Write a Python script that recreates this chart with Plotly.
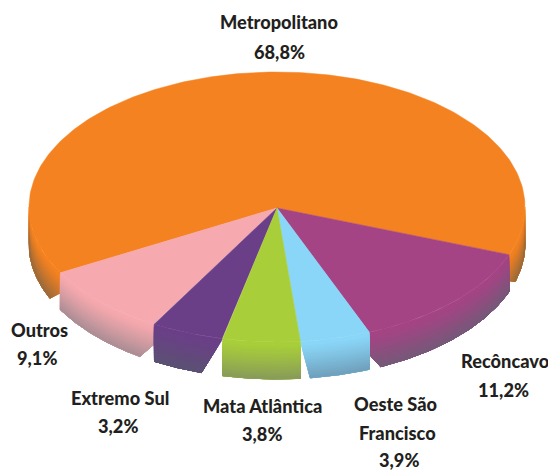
import numpy as np
import plotly.graph_objects as go

# ---- data (clockwise from the right-hand edge of the orange slice) ----
labels = ["Recôncavo", "Oeste São Francisco", "Mata Atlântica", "Extremo Sul", "Outros", "Metropolitano"]
values = [11.2, 3.9, 3.8, 3.2, 9.1, 68.8]

# ---- styles ----
face_colors = ["#A44484", "#8AD6F8", "#A8CE3A", "#6B3F87", "#F6A9AE", "#F58220"]
wall_colors = ["#735A78", "#6E9DB8", "#87995A", "#5A5272", "#A88C94", "#96683C"]
text_color = "#231F20"

# ---- layout geometry (pixel-based axes, projection of the tilted disc) ----
W, H = 548, 470
CX, CY, RX, RY = 277, 207, 248, 135
APEX = (277, 208)
DEPTH = 37
PERSP = 1.25
START_V = -57.9
NUDGE = [0, 0, -1, 0, 2.8, -4.6, 0]

label_lines = {
    "Recôncavo": (["Recôncavo"], [(505, 361)], (503, 390)),
    "Oeste São Francisco": (["Oeste São", "Francisco"], [(395, 404), (397, 433)], (399, 460)),
    "Mata Atlântica": (["Mata Atlântica"], [(262, 406)], (262, 434)),
    "Extremo Sul": (["Extremo Sul"], [(120, 398)], (118, 426)),
    "Outros": (["Outros"], [(39, 330)], (37, 358)),
    "Metropolitano": (["Metropolitano"], [(279, 22)], (279, 52)),
}


def project(v_deg):
    h = np.radians(np.asarray(v_deg, dtype=float)) / 2
    return 90 + 2 * np.degrees(np.arctan2(PERSP * np.sin(h), np.cos(h)))


cum = np.concatenate([[0], np.cumsum(values)])
bounds = project(START_V + 3.6 * cum) + np.array(NUDGE)


def rim(t_deg, shift=0.0):
    t = np.radians(np.asarray(t_deg, dtype=float))
    return CX + RX * np.cos(t), CY + RY * np.sin(t) + shift


def lerp_color(a, b, f):
    ca = [int(a[i:i + 2], 16) for i in (1, 3, 5)]
    cb = [int(b[i:i + 2], 16) for i in (1, 3, 5)]
    return "rgb(%d,%d,%d)" % tuple(round(x + (y - x) * f) for x, y in zip(ca, cb))


def edge(t0, delta, knee, f):
    f = np.asarray(f, dtype=float)
    if knee >= 1:
        return np.full_like(f, t0)
    return t0 + delta * np.clip((f - knee) / (1 - knee), 0, 1)


fig = go.Figure()


def poly(x, y, color):
    fig.add_trace(go.Scatter(x=np.asarray(x), y=np.asarray(y), mode="lines", fill="toself",
                             fillcolor=color, line=dict(color=color, width=0.5),
                             hoverinfo="skip", showlegend=False))


def wall(t0, t1, d0, k0, d1, k1, base, dark, bands=16):
    for i in range(bands):
        f0 = i / bands
        c = lerp_color(base, dark, min(1.0, max(0.0, (f0 - 0.05) / 0.95)) ** 1.15)
        fs = np.linspace(f0, 1, 12)
        a0 = edge(t0, d0, k0, f0)
        a1 = edge(t1, d1, k1, f0)
        tx, ty = rim(np.linspace(a0, a1, 70), f0 * DEPTH)
        rx_, ry_ = rim(edge(t1, d1, k1, fs), fs * DEPTH)
        bx, by = rim(np.linspace(edge(t1, d1, k1, 1.0), edge(t0, d0, k0, 1.0), 70), DEPTH)
        lx, ly = rim(edge(t0, d0, k0, fs[::-1]), fs[::-1] * DEPTH)
        poly(np.concatenate([tx, rx_, bx, lx]), np.concatenate([ty, ry_, by, ly]), c)


REC, BLU, GRN, PUR, PNK, ORG = range(6)
# orange walls: left and right ends only (the rest is behind the top face)
wall(bounds[PNK + 1], 180, 5.5, 0.54, 0, 1, face_colors[ORG], wall_colors[ORG])
wall(360, bounds[ORG + 1], 0, 1, -4.5, 0.7, face_colors[ORG], wall_colors[ORG])
wall(bounds[REC], bounds[REC + 1], 0, 1, -2.8, 0.6, face_colors[REC], wall_colors[REC])
wall(bounds[PNK], bounds[PNK + 1], 3.9, 0.54, 0, 1, face_colors[PNK], wall_colors[PNK])
wall(bounds[PUR], bounds[PUR + 1], 5.1, 0, 0, 1, face_colors[PUR], wall_colors[PUR])
wall(bounds[BLU], bounds[BLU + 1], 0, 1, -2.3, 0, face_colors[BLU], wall_colors[BLU])
wall(bounds[GRN], bounds[GRN + 1], 0, 1, 0, 1, face_colors[GRN], wall_colors[GRN])

for idx in [ORG, REC, PNK, PUR, BLU, GRN]:
    x, y = rim(np.linspace(bounds[idx], bounds[idx + 1], 240))
    poly(np.concatenate([[APEX[0]], x, [APEX[0]]]), np.concatenate([[APEX[1]], y, [APEX[1]]]), face_colors[idx])

annotations = []


def add_text(txt, pos):
    annotations.append(dict(x=pos[0], y=pos[1], xref="x", yref="y", text=txt, showarrow=False,
                            xanchor="center", yanchor="middle",
                            font=dict(family="Lato", size=18.2, weight=900, color=text_color)))


for name, val in zip(labels, values):
    lines, positions, vpos = label_lines[name]
    for ln, p in zip(lines, positions):
        add_text(ln, p)
    add_text(f"{val:.1f}".replace(".", ",") + "%", vpos)

fig.update_layout(width=W, height=H, margin=dict(l=0, r=0, t=0, b=0), autosize=False,
                  paper_bgcolor="white", plot_bgcolor="white", annotations=annotations,
                  xaxis=dict(range=[0, W], visible=False, fixedrange=True),
                  yaxis=dict(range=[H, 0], visible=False, fixedrange=True))
fig.write_html("out.html", config={"displayModeBar": False},
               default_width=f"{W}px", default_height=f"{H}px",
               post_script="document.body.style.margin='0';document.documentElement.style.overflow='hidden';")
